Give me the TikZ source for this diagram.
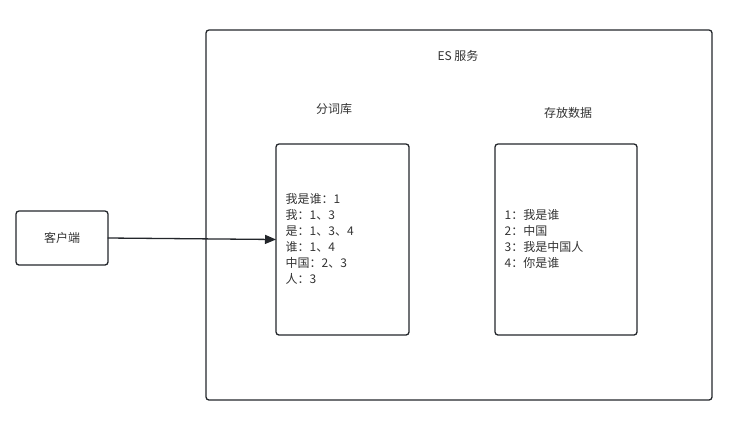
\documentclass[tikz,border=0pt]{standalone}
\usepackage{fontspec}
\usepackage{tikz}
\usetikzlibrary{arrows.meta}
\newfontfamily\cjk{Noto Sans CJK SC}
\definecolor{edgec}{RGB}{35,38,43}
\definecolor{textc}{RGB}{51,51,51}

\begin{document}
\begin{tikzpicture}[x=1pt, y=-1pt, >=Stealth, line cap=round,
    font=\cjk\fontsize{12}{16}\selectfont,
    box/.style={draw=edgec, line width=1.3pt, rounded corners=3pt,
                inner sep=0pt, outer sep=0pt},
    lbl/.style={text=textc, inner sep=0pt},
    listtxt/.style={text=textc, inner sep=0pt, align=left, anchor=west}]
  \useasboundingbox (0,0) rectangle (749,432);

  % service frame
  \node[box, minimum width=506pt, minimum height=370pt] (es) at (459,215) {};
  \node[lbl] (eslbl) at (458,56) {ES 服务};

  % client
  \node[box, minimum width=92pt, minimum height=54pt, text=textc] (client) at (62,238) {客户端};

  % dictionary box
  \node[box, minimum width=133pt, minimum height=191pt] (dict) at (342.5,239.5) {};
  \node[lbl] (dictlbl) at (334,109) {分词库};
  \node[listtxt] (dictlist) at (285.5,238.5)
    {我是谁：1\\
     我：1、3\\
     是：1、3、4\\
     谁：1、4\\
     中国：2、3\\
     人：3};

  % stored data box
  \node[box, minimum width=142pt, minimum height=191pt] (store) at (566,239.5) {};
  \node[lbl] (storelbl) at (568,113) {存放数据};
  \node[listtxt] (storelist) at (504.5,238.5)
    {1：我是谁\\
     2：中国\\
     3：我是中国人\\
     4：你是谁};

  % request
  \draw[-{Triangle[length=11pt, width=9pt]}, edgec, line width=1.3pt]
    (client.east) -- (dict.west);
\end{tikzpicture}
\end{document}
